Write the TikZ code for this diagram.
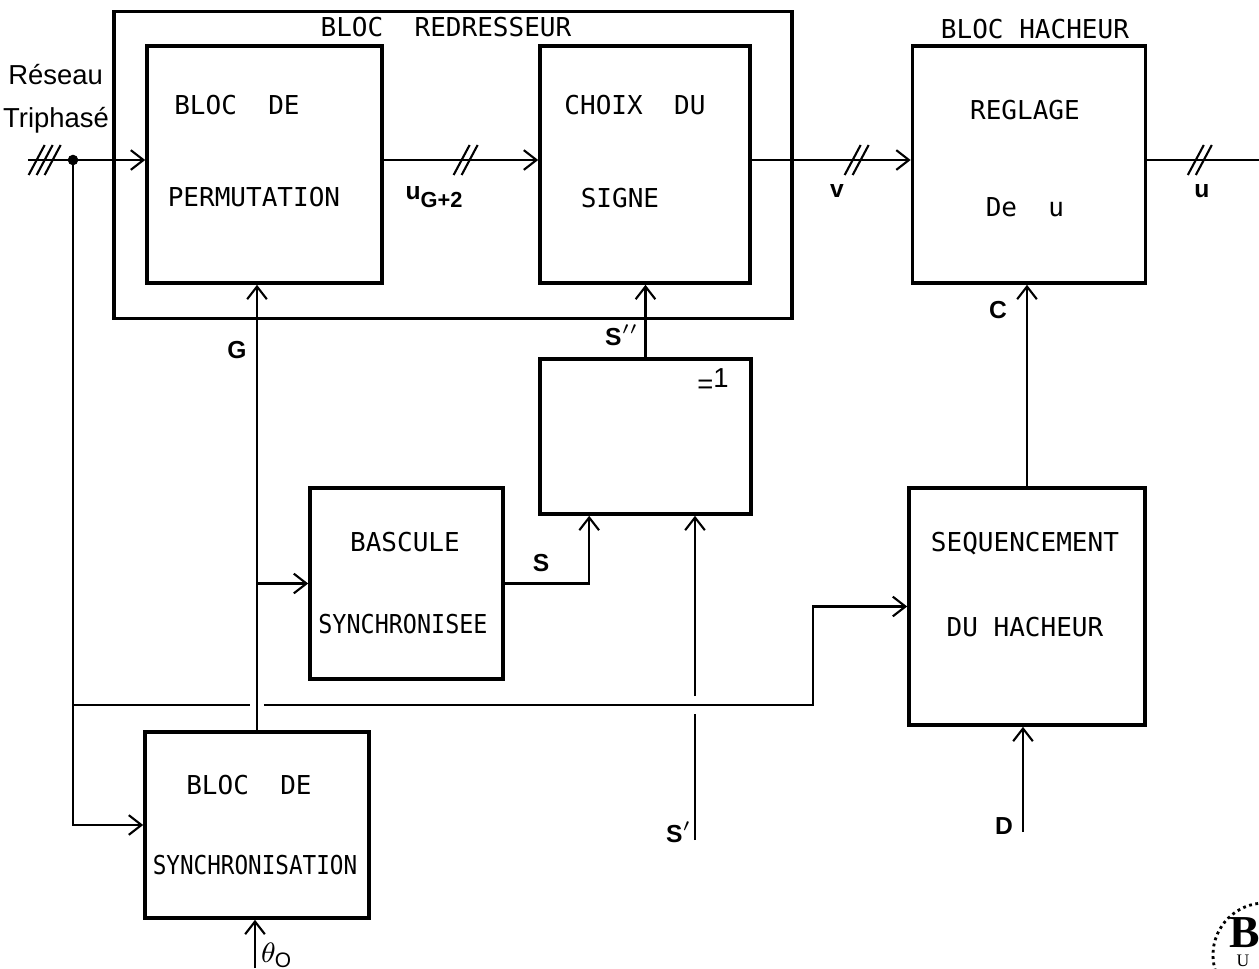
\documentclass[tikz,border=0pt]{standalone}
\usepackage{fontspec}
\setmainfont{Liberation Sans}
\newfontfamily\lettering{DejaVu Sans Mono}
\newfontfamily\stampfont{Liberation Serif}
\usetikzlibrary{arrows.meta,positioning,calc}

\tikzset{pics/slashes/.style={code={
  \foreach \k in {1,...,#1}
    \draw ({(\k-(#1+1)/2)*8-8},15) -- ++(16,-30);
}}}

\begin{document}
\begin{tikzpicture}[x=0.01cm,y=-0.01cm,line width=0.6pt,>={Straight Barb[length=3.6pt,width=5.6pt]}]
  \tikzstyle{blk}=[draw,line width=1pt,inner sep=0pt]
  \tikzstyle{txt}=[font=\lettering\fontsize{7.4}{9}\selectfont,inner sep=0pt]
  \tikzstyle{sig}=[font=\fontsize{7}{8}\selectfont\bfseries,inner sep=0pt]
  \tikzstyle{net}=[font=\fontsize{7.8}{9}\selectfont,inner sep=0pt]
  \useasboundingbox (0,0) rectangle (1259,969);

  \node[blk,minimum width=6.78cm,minimum height=3.07cm] (redr) at (453,165) {};
  \node[blk,minimum width=2.35cm,minimum height=2.37cm] (perm) at (264.5,164.5) {};
  \node[blk,minimum width=2.10cm,minimum height=2.37cm] (signe) at (645,164.5) {};
  \node[blk,minimum width=2.33cm,minimum height=2.37cm] (regl) at (1029,164.5) {};
  \node[blk,minimum width=2.11cm,minimum height=1.55cm] (xor) at (645.5,436.5) {};
  \node[blk,minimum width=1.93cm,minimum height=1.91cm] (basc) at (406.5,583.5) {};
  \node[blk,minimum width=2.24cm,minimum height=1.86cm] (sync) at (257,825) {};
  \node[blk,minimum width=2.36cm,minimum height=2.37cm] (seq) at (1027,606.5) {};

  \node[txt] (redrT) at (446,27) {BLOC\ \ REDRESSEUR};
  \node[txt] (hachT) at (1035,29) {BLOC HACHEUR};
  \node[txt] (permA) at (237,105) {BLOC\ \ DE};
  \node[txt] (permB) at (254,197) {PERMUTATION};
  \node[txt] (signeA) at (635,105) {CHOIX\ \ DU};
  \node[txt] (signeB) at (620,198) {SIGNE};
  \node[txt] (reglA) at (1025,110) {REGLAGE};
  \node[txt] (reglB) at (1025,207) {De\ \ u};
  \node[txt] (bascA) at (405,542) {BASCULE};
  \node[txt] (bascB) at (403,624) {\scalebox{0.9}[1]{SYNCHRONISEE}};
  \node[txt] (syncA) at (249,785) {BLOC\ \ DE};
  \node[txt] (syncB) at (255,865) {\scalebox{0.87}[1]{SYNCHRONISATION}};
  \node[txt] (seqA) at (1025,544) {SEQUENCEMENT};
  \node[txt] (seqB) at (1025,627) {DU HACHEUR};
  \node[net] (xorT) at (713,381) {=\raisebox{1.5pt}{1}};

  \node[net,anchor=east] (res1) at (104,75) {Réseau};
  \node[net,anchor=east] (res2) at (110,120) {Triphasé};

  \coordinate (in) at (28,160);
  \coordinate (jn) at (73,160);
  \coordinate (out) at (1259,160);
  \draw[->] (in) -- (in -| perm.west);
  \fill (jn) circle (1.5pt);
  \pic at ($(in)!0.37!(jn)$) {slashes=3};
  \draw[->] (perm.east |- jn) -- (signe.west |- jn);
  \pic at ($(perm.east |- jn)!0.53!(signe.west |- jn)$) {slashes=2};
  \draw[->] (signe.east |- jn) -- (regl.west |- jn);
  \pic at ($(signe.east |- jn)!0.66!(regl.west |- jn)$) {slashes=2};
  \draw (regl.east |- out) -- (out);
  \pic at ($(regl.east |- out)!0.47!(out)$) {slashes=2};

  \draw[->] (jn) |- (sync.west);
  \coordinate (bus0) at (73,705);
  \coordinate (busG) at (bus0 -| sync.north);
  \coordinate (busT) at (813,705);
  \draw (bus0) -- ($(busG)+(-7,0)$);
  \draw[->] ($(busG)+(7,0)$) -- (busT) |- (seq.west);

  \draw[->] (sync.north) -- (sync.north |- perm.south);
  \coordinate (gB) at (sync.north |- basc.west);
  \draw[->] (gB) -- (basc.west);
  \coordinate (sIn) at ($(xor.south west)+(51,0)$);
  \draw[->] (basc.east) -| (sIn);
  \draw[->] (xor.north) -- (xor.north |- signe.south);
  \coordinate (sp) at (695,840);
  \draw (sp) -- ($(sp |- bus0)+(0,9)$);
  \draw[->] ($(sp |- bus0)+(0,-9)$) -- (sp |- xor.south);
  \draw[->] (seq.north) -- (seq.north |- regl.south);
  \coordinate (dIn) at (1023,832);
  \draw[->] (dIn) -- (dIn |- seq.south);
  \coordinate (thIn) at (255,968);
  \draw[->] (thIn) -- (thIn |- sync.south);

  \node[sig] (lU) at (434,197) {u\raisebox{-2.5pt}{\fontsize{6.2}{7}\selectfont G+2}};
  \node[sig] (lV) at (837,191) {v};
  \node[sig] (lOut) at (1202,191) {u};
  \node[sig] (lG) at (237,350) {G};
  \node[sig] (lS2) at (622,335) {S$''$};
  \node[sig] (lS) at (541,563) {S};
  \node[sig] (lS1) at (679,832) {S$'$};
  \node[sig] (lC) at (998,310) {C};
  \node[sig] (lD) at (1004,826) {D};
  \node[sig,font=\fontsize{8.5}{9}\selectfont] (lTh) at (277,955) {$\theta_{\mathrm{O}}$};

  \draw[densely dotted,line width=0.8pt] (1265,955) circle (0.52cm);
  \node[font=\stampfont\fontsize{13}{13}\selectfont\bfseries,inner sep=0pt] (stamp) at (1245,933) {B};
  \node[font=\stampfont\fontsize{5}{5}\selectfont,inner sep=0pt] (stamp2) at (1243,961) {U};
\end{tikzpicture}
\end{document}
